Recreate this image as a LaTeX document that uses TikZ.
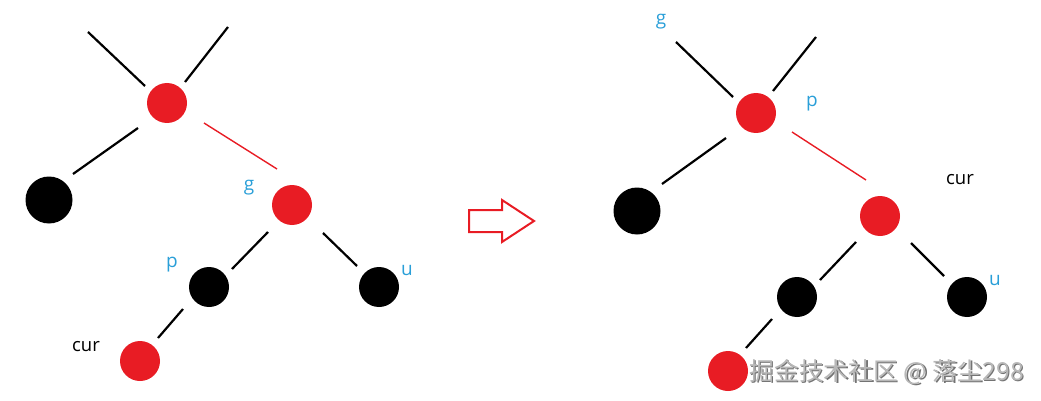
\documentclass[tikz,border=0pt]{standalone}
\usepackage{fontspec}
\setmainfont{Open Sans}
\newfontfamily\cjk{Noto Sans CJK SC}
\definecolor{rbred}{HTML}{E81C24}
\definecolor{lblue}{HTML}{2A9FD8}
\definecolor{wmgray}{HTML}{9A9A9A}
\begin{document}
\begin{tikzpicture}[x=1pt,y=-1pt,
  rednode/.style={circle,fill=rbred,inner sep=0pt,minimum size=40pt},
  blacknode/.style={circle,fill=black,inner sep=0pt,minimum size=40pt},
  bignode/.style={circle,fill=black,inner sep=0pt,minimum size=47pt},
  edge/.style={line width=2.2pt,black},
  redge/.style={line width=1.4pt,rbred},
  blbl/.style={text=lblue,font=\fontsize{19}{21}\selectfont},
  klbl/.style={text=black,font=\fontsize{18.5}{21}\selectfont}]
\useasboundingbox (0,0) rectangle (1041,401);
% ---------- left tree ----------
\node[rednode] (L1) at (167,103) {};
\node[bignode] (L2) at (49,200) {};
\node[rednode] (Lg) at (292,205) {};
\node[blacknode] (Lp) at (209,287) {};
\node[blacknode] (Lu) at (379,287) {};
\node[rednode] (Lc) at (140,361) {};
\coordinate (a1) at (88,32);  \coordinate (a2) at (145,86);
\coordinate (b1) at (228,27); \coordinate (b2) at (185,82);
\coordinate (c1) at (138,128); \coordinate (c2) at (73,174);
\coordinate (d1) at (204,123); \coordinate (d2) at (277,169);
\coordinate (e1) at (268,232); \coordinate (e2) at (232,269);
\coordinate (f1) at (323,233); \coordinate (f2) at (357,266);
\coordinate (h1) at (183,309); \coordinate (h2) at (158,338);
\draw[edge] (a1) -- (a2);
\draw[edge] (b1) -- (b2);
\draw[edge] (c1) -- (c2);
\draw[redge] (d1) -- (d2);
\draw[edge] (e1) -- (e2);
\draw[edge] (f1) -- (f2);
\draw[edge] (h1) -- (h2);
\node[blbl] (Lgl) at (249,188) {g};
\node[blbl] (Lpl) at (172,265) {p};
\node[blbl] (Lul) at (407,271) {u};
\node[klbl] (Lcl) at (86,347) {cur};
% ---------- arrow ----------
\node (arr) at (501,221) {};
\draw[rbred,line width=2pt,line join=miter]
  (469,210) -- (502,210) -- (502,200) -- (534,221) -- (502,242) -- (502,232) -- (469,232) -- cycle;
% ---------- right tree ----------
\node[rednode] (R1) at (756,113) {};
\node[bignode] (R2) at (637,211) {};
\node[rednode] (Rc) at (880,216) {};
\node[blacknode] (Rx) at (797,297) {};
\node[blacknode] (Ru) at (967,297) {};
\node[rednode] (Ry) at (728,371) {};
\coordinate (ra1) at (676,42);  \coordinate (ra2) at (733,97);
\coordinate (rb1) at (816,37);  \coordinate (rb2) at (773,91);
\coordinate (rc1) at (726,138); \coordinate (rc2) at (662,184);
\coordinate (rd1) at (792,132); \coordinate (rd2) at (866,180);
\coordinate (re1) at (856,242); \coordinate (re2) at (820,280);
\coordinate (rf1) at (911,243); \coordinate (rf2) at (944,276);
\coordinate (rh1) at (772,319); \coordinate (rh2) at (746,348);
\draw[edge] (ra1) -- (ra2);
\draw[edge] (rb1) -- (rb2);
\draw[edge] (rc1) -- (rc2);
\draw[redge] (rd1) -- (rd2);
\draw[edge] (re1) -- (re2);
\draw[edge] (rf1) -- (rf2);
\draw[edge] (rh1) -- (rh2);
\node[blbl] (Rgl) at (661,22) {g};
\node[blbl] (Rpl) at (812,104) {p};
\node[blbl] (Rul) at (995,281) {u};
\node[klbl] (Rcl) at (960,180) {cur};
% ---------- watermark ----------
\node[text=black!55,font=\cjk\fontsize{24.8}{27}\selectfont,anchor=west] (wms) at (747.3,373) {掘金技术社区 @ 落尘298};
\node[text=wmgray!70,font=\cjk\fontsize{24.8}{27}\selectfont,anchor=west] (wm) at (746,372) {掘金技术社区 @ 落尘298};
\end{tikzpicture}
\end{document}
